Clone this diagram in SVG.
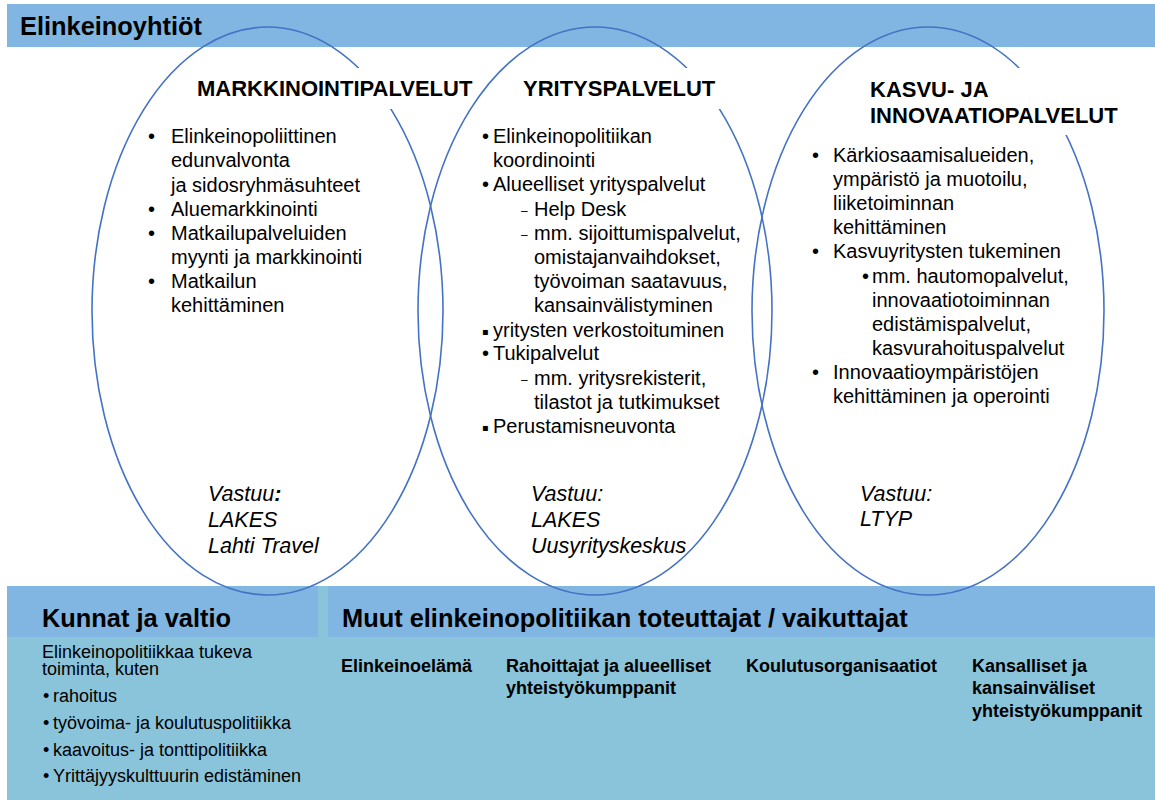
<svg xmlns="http://www.w3.org/2000/svg" width="1155" height="800" viewBox="0 0 1155 800">
<style>
text{font-family:"Liberation Sans",Arial,"DejaVu Sans",sans-serif;fill:#000}
.hd{font-size:25.4px;font-weight:bold}
.tt{font-size:22px;font-weight:bold}
.bd{font-size:20px}
.it{font-size:21.5px;font-style:italic}
.sm{font-size:18px}
.sb{font-size:18px;font-weight:bold}
.dash{font-size:12px}
.sq{font-size:10px;font-family:"DejaVu Sans",sans-serif}
.ell{fill:none;stroke:#4472C4;stroke-width:1.6}
.box{fill:#fff}
.dark{fill:#80B6E1}
.light{fill:#8AC4DB}
</style>
<rect width="1155" height="800" fill="#fff"/>
<g id="banner-top">
<rect class="dark" x="7" y="4" width="1148" height="43"/>
<text class="hd" x="20" y="35">Elinkeinoyhtiöt</text>
</g>
<g id="kunnat">
<rect class="light" x="7" y="586" width="317" height="214"/>
<rect class="dark" x="7" y="586" width="311" height="51"/>
<text class="hd" x="42" y="627">Kunnat ja valtio</text>
<text class="sm" x="42" y="658">Elinkeinopolitiikkaa tukeva</text>
<text class="sm" x="42" y="675">toiminta, kuten</text>
<text class="sm" x="43" y="702">•</text><text class="sm" x="53" y="702">rahoitus</text>
<text class="sm" x="43" y="729">•</text><text class="sm" x="53" y="729">työvoima- ja koulutuspolitiikka</text>
<text class="sm" x="43" y="756">•</text><text class="sm" x="53" y="756">kaavoitus- ja tonttipolitiikka</text>
<text class="sm" x="43" y="782">•</text><text class="sm" x="53" y="782">Yrittäjyyskulttuurin edistäminen</text>
</g>
<g id="muut">
<rect class="light" x="322" y="586" width="833" height="214"/>
<rect class="dark" x="328" y="586" width="827" height="51"/>
<text class="hd" x="342" y="627">Muut elinkeinopolitiikan toteuttajat / vaikuttajat</text>
<text class="sb" x="341" y="672">Elinkeinoelämä</text>
<text class="sb" x="506" y="672">Rahoittajat ja alueelliset</text>
<text class="sb" x="506" y="694">yhteistyökumppanit</text>
<text class="sb" x="746" y="672">Koulutusorganisaatiot</text>
<text class="sb" x="972" y="672">Kansalliset ja</text>
<text class="sb" x="972" y="694">kansainväliset</text>
<text class="sb" x="972" y="717">yhteistyökumppanit</text>
</g>
<g id="connectors"/>
<g id="markkinointipalvelut">
<ellipse class="ell" cx="267.5" cy="311" rx="175.5" ry="284"/>
<rect class="box" x="192" y="68" width="281" height="41"/>
<text class="tt" x="197" y="96">MARKKINOINTIPALVELUT</text>
<text class="bd" x="148" y="143">•</text><text class="bd" x="171" y="143">Elinkeinopoliittinen</text>
<text class="bd" x="171" y="167">edunvalvonta</text>
<text class="bd" x="171" y="192">ja sidosryhmäsuhteet</text>
<text class="bd" x="148" y="216">•</text><text class="bd" x="171" y="216">Aluemarkkinointi</text>
<text class="bd" x="148" y="240">•</text><text class="bd" x="171" y="240">Matkailupalveluiden</text>
<text class="bd" x="171" y="264">myynti ja markkinointi</text>
<text class="bd" x="148" y="288">•</text><text class="bd" x="171" y="288">Matkailun</text>
<text class="bd" x="171" y="312">kehittäminen</text>
<text class="it" x="208" y="501">Vastuu<tspan font-weight="bold">:</tspan></text>
<text class="it" x="208" y="527">LAKES</text>
<text class="it" x="208" y="553">Lahti Travel</text>
</g>
<g id="yrityspalvelut">
<ellipse class="ell" cx="595" cy="311" rx="177" ry="284"/>
<rect class="box" x="512" y="68" width="210" height="41"/>
<text class="tt" x="523" y="96">YRITYSPALVELUT</text>
<text class="bd" x="482" y="143">•</text><text class="bd" x="493" y="143">Elinkeinopolitiikan</text>
<text class="bd" x="493" y="167">koordinointi</text>
<text class="bd" x="482" y="191">•</text><text class="bd" x="493" y="191">Alueelliset yrityspalvelut</text>
<text class="dash" x="521" y="215">–</text><text class="bd" x="534" y="216">Help Desk</text>
<text class="dash" x="521" y="239">–</text><text class="bd" x="534" y="240">mm. sijoittumispalvelut,</text>
<text class="bd" x="534" y="264">omistajanvaihdokset,</text>
<text class="bd" x="534" y="288">työvoiman saatavuus,</text>
<text class="bd" x="534" y="312">kansainvälistyminen</text>
<text class="sq" x="482" y="335">▪</text><text class="bd" x="493" y="337">yritysten verkostoituminen</text>
<text class="bd" x="482" y="360">•</text><text class="bd" x="493" y="360">Tukipalvelut</text>
<text class="dash" x="521" y="384">–</text><text class="bd" x="534" y="385">mm. yritysrekisterit,</text>
<text class="bd" x="534" y="409">tilastot ja tutkimukset</text>
<text class="sq" x="482" y="431">▪</text><text class="bd" x="493" y="433">Perustamisneuvonta</text>
<text class="it" x="531" y="501">Vastuu:</text>
<text class="it" x="531" y="527">LAKES</text>
<text class="it" x="531" y="553">Uusyrityskeskus</text>
</g>
<g id="kasvupalvelut">
<ellipse class="ell" cx="928" cy="311" rx="176" ry="284"/>
<rect class="box" x="865" y="68" width="262" height="67"/>
<text class="tt" x="870" y="97">KASVU- JA</text>
<text class="tt" x="870" y="123">INNOVAATIOPALVELUT</text>
<text class="bd" x="812" y="162">•</text><text class="bd" x="833" y="162">Kärkiosaamisalueiden,</text>
<text class="bd" x="833" y="186">ympäristö ja muotoilu,</text>
<text class="bd" x="833" y="210">liiketoiminnan</text>
<text class="bd" x="833" y="234">kehittäminen</text>
<text class="bd" x="812" y="258">•</text><text class="bd" x="833" y="258">Kasvuyritysten tukeminen</text>
<text class="bd" x="862" y="283">•</text><text class="bd" x="872" y="283">mm. hautomopalvelut,</text>
<text class="bd" x="872" y="307">innovaatiotoiminnan</text>
<text class="bd" x="872" y="331">edistämispalvelut,</text>
<text class="bd" x="872" y="355">kasvurahoituspalvelut</text>
<text class="bd" x="812" y="379">•</text><text class="bd" x="833" y="379">Innovaatioympäristöjen</text>
<text class="bd" x="833" y="403">kehittäminen ja operointi</text>
<text class="it" x="860" y="501">Vastuu:</text>
<text class="it" x="860" y="526">LTYP</text>
</g>
</svg>
